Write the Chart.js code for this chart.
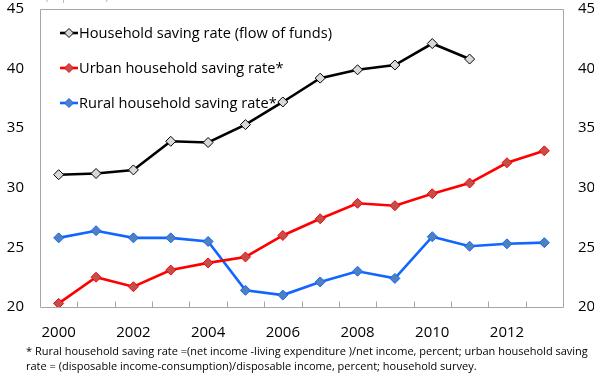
<!DOCTYPE html>
<html>
<head>
<meta charset="utf-8">
<script src="https://cdn.jsdelivr.net/npm/chart.js@4/dist/chart.umd.min.js"></script>
<style>
html,body{margin:0;padding:0;background:#fff;}
#wrap{width:594px;height:375px;position:relative;}
</style>
</head>
<body>
<div id="wrap"><canvas id="c" width="594" height="375"></canvas></div>
<script>
const years = ['2000','2001','2002','2003','2004','2005','2006','2007','2008','2009','2010','2011','2012','2013'];
const flowOfFunds = [31.1, 31.2, 31.5, 33.9, 33.8, 35.3, 37.2, 39.2, 39.9, 40.3, 42.1, 40.8, null, null];
const urbanRate = [20.3, 22.5, 21.7, 23.1, 23.7, 24.2, 26.0, 27.4, 28.7, 28.5, 29.5, 30.4, 32.1, 33.1];
const ruralRate = [25.8, 26.4, 25.8, 25.8, 25.5, 21.4, 21.0, 22.1, 23.0, 22.4, 25.9, 25.1, 25.3, 25.4];
const seriesNames = ['Household saving rate (flow of funds)', 'Urban household saving rate*', 'Rural household saving rate*'];
const yTicks = [20, 25, 30, 35, 40, 45];
const footnote = [
  '* Rural household saving rate =(net income -living expenditure )/net income, percent; urban household saving',
  'rate = (disposable income-consumption)/disposable income, percent; household survey.'
];

const FONT = '"Open Sans", "Noto Sans", sans-serif';
const AXIS_COLOR = '#a6a6a6';

const styles = [
  {line:'#000000', fill:'#d9d9d9', border:'#000000'},
  {line:'#ff0000', fill:'#c0504d', border:'#ff0000'},
  {line:'#1166ff', fill:'#4f81bd', border:'#1166ff'}
];

function mkDs(label, data, st){
  return {
    label, data,
    borderColor: st.line, backgroundColor: st.fill,
    borderWidth: 2.6,
    pointStyle: 'rectRot', pointRadius: 5, pointHoverRadius: 5,
    pointBackgroundColor: st.fill, pointBorderColor: st.border, pointBorderWidth: 1,
    tension: 0, spanGaps: false
  };
}

function diamond(ctx, x, y, r){
  ctx.beginPath();
  ctx.moveTo(x, y - r); ctx.lineTo(x + r, y); ctx.lineTo(x, y + r); ctx.lineTo(x - r, y);
  ctx.closePath();
}

function drawFrame(chart){
  const ctx = chart.ctx, a = chart.chartArea, xs = chart.scales.x;
  ctx.save();
  ctx.strokeStyle = AXIS_COLOR; ctx.lineWidth = 1;
  const L = Math.round(a.left) + 0.5, T = Math.round(a.top) + 0.5;
  const R = Math.round(a.right) + 0.5, B = Math.round(a.bottom) + 0.5;
  ctx.beginPath();
  ctx.moveTo(L, T); ctx.lineTo(R, T); ctx.lineTo(R, B); ctx.lineTo(L, B); ctx.closePath();
  for (let i = 1; i < years.length; i++){
    const px = Math.round((xs.getPixelForValue(i-1) + xs.getPixelForValue(i))/2) + 0.5;
    ctx.moveTo(px, B); ctx.lineTo(px, B - 6);
  }
  ctx.stroke();
  ctx.restore();
}

const decor = {
  id: 'decor',
  beforeDraw(chart){ drawFrame(chart); },
  afterDraw(chart){
    const ctx = chart.ctx;
    ctx.save();
    // legend
    ctx.font = '14.6px ' + FONT;
    ctx.textBaseline = 'middle';
    ctx.textAlign = 'left';
    const ly = [33, 68, 103];
    chart.data.datasets.forEach((ds, i) => {
      const y = ly[i];
      ctx.strokeStyle = ds.borderColor; ctx.lineWidth = 2.6;
      ctx.beginPath(); ctx.moveTo(60, y); ctx.lineTo(78, y); ctx.stroke();
      diamond(ctx, 69, y, 4.5);
      ctx.fillStyle = ds.pointBackgroundColor; ctx.fill();
      ctx.strokeStyle = ds.pointBorderColor; ctx.lineWidth = 1; ctx.stroke();
      ctx.fillStyle = '#000';
      ctx.fillText(ds.label, 79, y + 1);
    });
    // partly hidden subtitle
    ctx.fillStyle = '#9dc3e6';
    ctx.font = '12px ' + FONT;
    ctx.textBaseline = 'bottom';
    ctx.fillText('(in percent)', 45, 3);
    // footnote
    ctx.fillStyle = '#000';
    ctx.font = '11px ' + FONT;
    ctx.textBaseline = 'middle';
    ctx.fillText(footnote[0], 26, 352);
    ctx.fillText(footnote[1], 26, 367);
    ctx.restore();
  }
};

function noPadV(s){ s.paddingTop = 0; s.paddingBottom = 0; }
function noPadH(s){ s.paddingLeft = 0; s.paddingRight = 0; }

new Chart(document.getElementById('c'), {
  type: 'line',
  data: {
    labels: years,
    datasets: [
      mkDs(seriesNames[0], flowOfFunds, styles[0]),
      mkDs(seriesNames[1], urbanRate, styles[1]),
      mkDs(seriesNames[2], ruralRate, styles[2])
    ]
  },
  options: {
    responsive: false,
    animation: false,
    events: [],
    layout: {padding: {top: 9, bottom: 0, left: 0, right: 0}},
    plugins: {legend: {display: false}, tooltip: {enabled: false}, title: {display: false}},
    scales: {
      x: {
        type: 'category', offset: true,
        grid: {display: false, drawTicks: false},
        border: {display: false},
        ticks: {
          color: '#000', font: {family: FONT, size: 15}, padding: 17,
          maxRotation: 0, autoSkip: false,
          callback: function(v, i){ return i % 2 === 0 ? years[i] : ''; }
        },
        afterFit: s => { s.height = 68; noPadH(s); }
      },
      y: {
        position: 'left', min: 20, max: 45,
        grid: {display: false, drawTicks: false},
        border: {display: false},
        afterBuildTicks: s => { s.ticks = yTicks.map(v => ({value: v})); },
        ticks: {color: '#000', font: {family: FONT, size: 15}, padding: 16},
        afterFit: s => { s.width = 40; noPadV(s); }
      },
      y2: {
        position: 'right', min: 20, max: 45,
        grid: {display: false, drawTicks: false},
        border: {display: false},
        afterBuildTicks: s => { s.ticks = yTicks.map(v => ({value: v})); },
        ticks: {color: '#000', font: {family: FONT, size: 15}, padding: 15},
        afterFit: s => { s.width = 31; noPadV(s); }
      }
    }
  },
  plugins: [decor]
});
</script>
</body>
</html>
